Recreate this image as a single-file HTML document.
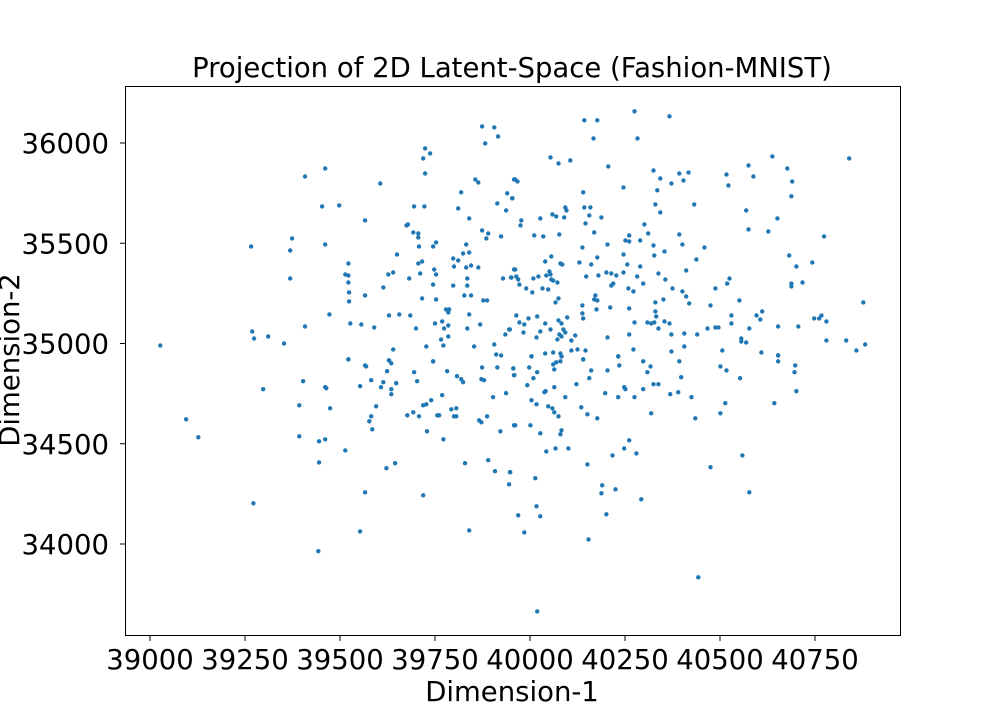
<!DOCTYPE html>
<html><head><meta charset="utf-8"><style>
html,body{margin:0;padding:0;background:#fff;}
svg text{font-family:"DejaVu Sans","Liberation Sans",sans-serif;fill:#000;}
</style></head><body>
<svg id="chart" width="1000" height="715" xmlns="http://www.w3.org/2000/svg">
<rect width="1000" height="715" fill="#fff"/>
<text x="512" y="77" font-size="27.5" text-anchor="middle">Projection of 2D Latent-Space (Fashion-MNIST)</text>
<g id="points"></g>
<rect x="125.5" y="86.5" width="775" height="549" fill="none" stroke="#000" stroke-width="1"/>
<g id="xticks"></g>
<g id="yticks"></g>
<text x="512" y="701" font-size="27.5" text-anchor="middle">Dimension-1</text>
<text x="0" y="0" font-size="27.5" text-anchor="middle" transform="translate(19,360) rotate(-90)">Dimension-2</text>
</svg>
<script>
const xTicks=[39000,39250,39500,39750,40000,40250,40500,40750];
const yTicks=[34000,34500,35000,35500,36000];
const xs=[39874,39906,39916,39882,39724,39737,39719,39724,39461,39408,39606,39856,39864,39958,39819,39940,39953,39914,39937,39453,39498,39695,39722,39811,39566,39840,39675,39679,39693,39706,39706,39874,39890,39885,39924,39753,39745,39708,39832,39266,39374,39369,39461,39650,39824,39840,39798,39811,39706,39716,39522,39800,39832,39845,39864,39748,39753,39711,39958,39514,39522,39627,39640,39682,39835,39929,39950,39369,39522,39745,39798,39835,39614,39524,39566,39827,39845,39524,39716,39753,39877,39887,39779,39787,39785,39472,39629,39656,39685,39840,39769,39750,39785,39527,39556,39590,39700,39774,39835,39869,39945,39935,39785,39408,39269,39274,39311,39353,39766,39772,39727,39853,39906,39911,39924,39640,39522,39629,39745,39027,
40275,40367,40143,40177,40167,40283,40054,40075,40106,40206,40638,40840,40575,40677,40325,40393,40417,40343,40404,40372,40517,40588,40522,40690,39961,39967,40246,40335,40140,40688,39954,40330,40432,40093,40096,40143,40159,40343,40569,40059,40069,40090,40156,40188,40027,39977,39975,40146,40301,40651,40575,40627,40774,40011,40035,40077,40169,40261,40311,40393,40251,40261,40290,40204,40325,40401,40138,40459,40354,40246,40327,40056,40177,40682,40438,40743,40040,40130,40080,40085,40161,40256,40701,40290,39961,40051,40411,40338,40201,40214,40246,39951,39964,39969,40009,40022,40043,40054,40056,40061,40072,40148,40180,40227,40282,40356,40525,39972,40219,40214,40298,40519,40688,40688,40717,39990,40006,40033,40048,40259,40272,40375,40401,40488,40411,40075,40172,40169,40177,40351,40551,40067,40330,40419,40475,40877,40138,40175,40211,40261,39964,39996,40019,40098,40138,40140,40330,40332,40530,40596,40611,40606,40748,40761,40767,40780,39972,39985,40040,40075,40083,40275,40309,40319,40327,40354,40367,40530,40054,40088,40093,39983,39947,40338,40467,40488,40496,40577,40653,40706,40077,40083,40017,40027,40119,40109,40072,40204,40261,40372,40406,40440,40556,40556,40569,40780,40832,40882,40859,40406,40272,40372,40506,40609,40653,40040,40061,40080,40083,40109,40125,40146,40140,40004,40232,
39095,39127,39298,39403,39393,39393,39461,39464,39474,39445,39461,39445,39514,39272,39443,39553,39566,39622,39645,39719,39840,39829,39890,39908,39948,39945,39522,39566,39569,39629,39635,39624,39582,39614,39648,39553,39608,39635,39635,39595,39582,39577,39585,39695,39703,39745,39782,39808,39819,39824,39874,39914,39956,39958,39872,39879,39903,39937,39958,39740,39769,39719,39727,39677,39693,39708,39756,39761,39793,39806,39800,39806,39866,39872,39887,39922,39729,39772,
40004,40083,40232,40653,39956,39959,39998,40009,40019,39993,40061,40069,40080,40064,40140,40161,40156,40204,40235,40298,40317,40309,40393,40398,40501,40517,40553,40653,40698,40696,40701,40643,40514,40501,40435,40425,40390,40369,40325,40338,40298,40275,40248,40251,40232,40198,40319,40122,40064,40038,40041,40093,40004,40017,40048,40059,40064,40075,40135,40151,40177,39961,40001,40027,40083,40080,40043,40067,40101,40151,40217,40248,40261,40280,40475,40559,40577,39947,40014,40190,40188,40225,40293,40017,39969,40027,39985,40201,40154,40443,40019];
const ys=[36083,36078,36033,35998,35973,35948,35923,35848,35873,35833,35798,35818,35803,35818,35754,35749,35724,35699,35664,35684,35689,35684,35684,35674,35614,35624,35589,35594,35554,35549,35529,35564,35549,35524,35534,35504,35484,35484,35494,35484,35524,35464,35494,35444,35449,35454,35424,35414,35399,35409,35399,35384,35379,35389,35379,35369,35344,35349,35369,35344,35339,35344,35354,35324,35324,35324,35329,35324,35304,35294,35289,35289,35280,35255,35240,35240,35240,35210,35225,35220,35215,35215,35170,35170,35155,35145,35140,35145,35140,35145,35110,35100,35090,35100,35095,35080,35075,35075,35075,35095,35070,35045,35035,35085,35060,35025,35035,35000,35020,34990,34985,34985,34995,34945,34940,34970,34920,34915,34910,34990,
36158,36133,36113,36113,36023,36023,35928,35898,35913,35883,35933,35923,35888,35873,35863,35848,35853,35823,35813,35798,35843,35833,35788,35808,35818,35808,35778,35764,35754,35734,35724,35694,35694,35679,35664,35679,35679,35654,35664,35644,35634,35629,35639,35629,35624,35614,35589,35599,35594,35624,35569,35559,35534,35539,35534,35544,35554,35539,35549,35544,35514,35509,35514,35494,35489,35494,35479,35479,35459,35444,35439,35434,35429,35439,35419,35404,35409,35404,35399,35394,35394,35394,35384,35384,35369,35359,35364,35349,35354,35349,35354,35329,35334,35319,35324,35334,35339,35344,35319,35314,35304,35334,35339,35339,35334,35319,35324,35294,35299,35289,35299,35299,35299,35285,35304,35275,35255,35275,35270,35275,35260,35275,35260,35275,35235,35225,35240,35220,35215,35220,35215,35205,35205,35200,35190,35205,35190,35170,35180,35175,35140,35125,35135,35130,35150,35125,35160,35135,35140,35140,35160,35120,35125,35125,35140,35110,35105,35095,35100,35115,35100,35105,35105,35100,35105,35110,35100,35100,35070,35070,35055,35055,35070,35075,35075,35080,35080,35075,35085,35085,35045,35035,35030,35060,35040,35015,35020,35030,35045,35045,35050,35045,35025,35010,35005,35015,35015,34995,34965,34985,34970,34960,34965,34955,34940,34950,34955,34950,34935,34965,34970,34965,34920,34935,34935,
34622,34532,34772,34812,34692,34537,34782,34777,34677,34512,34522,34407,34467,34203,33964,34063,34258,34378,34403,34243,34068,34403,34418,34363,34358,34298,34921,34891,34886,34916,34901,34862,34817,34807,34802,34787,34782,34772,34747,34687,34637,34612,34572,34857,34812,34911,34862,34837,34822,34807,34881,34881,34876,34842,34822,34817,34732,34752,34592,34717,34742,34692,34697,34642,34657,34637,34642,34642,34672,34677,34637,34637,34617,34607,34637,34562,34562,34522,
34936,34936,34936,34941,34876,34842,34881,34827,34857,34792,34896,34906,34911,34871,34921,34866,34827,34866,34891,34911,34886,34857,34911,34832,34886,34866,34827,34911,34891,34857,34762,34702,34702,34652,34627,34732,34757,34747,34797,34797,34772,34732,34782,34772,34732,34752,34652,34797,34782,34757,34762,34732,34717,34697,34687,34677,34657,34637,34682,34647,34627,34592,34592,34552,34567,34547,34462,34477,34477,34397,34442,34477,34517,34452,34383,34442,34258,34358,34328,34293,34253,34273,34223,34188,34143,34138,34058,34148,34023,33834,33664];

const NS='http://www.w3.org/2000/svg';
function xPos(v){return 150+(v-39000)*0.38;}
function yPos(v){return 143+(36000-v)*0.2005;}
const pg=document.getElementById('points');
const n=Math.min(xs.length,ys.length);
for(let i=0;i<n;i++){
  const c=document.createElementNS(NS,'circle');
  c.setAttribute('cx',xPos(xs[i]).toFixed(1));
  c.setAttribute('cy',yPos(ys[i]).toFixed(1));
  c.setAttribute('r','2.2');
  c.setAttribute('fill','#1f77b4');
  
  
  pg.appendChild(c);
}
const xg=document.getElementById('xticks');
xTicks.forEach(t=>{
  const x=xPos(t);
  const l=document.createElementNS(NS,'line');
  l.setAttribute('x1',x);l.setAttribute('x2',x);l.setAttribute('y1',636);l.setAttribute('y2',641);
  l.setAttribute('stroke','#000');
  
  
  xg.appendChild(l);
  const tx=document.createElementNS(NS,'text');
  tx.setAttribute('x',x);tx.setAttribute('y',669);tx.setAttribute('font-size','27.5');tx.setAttribute('text-anchor','middle');
  tx.textContent=t;
  
  
  xg.appendChild(tx);
});
const yg=document.getElementById('yticks');
yTicks.forEach(t=>{
  const y=yPos(t);
  const l=document.createElementNS(NS,'line');
  l.setAttribute('x1',120);l.setAttribute('x2',125);l.setAttribute('y1',y);l.setAttribute('y2',y);
  l.setAttribute('stroke','#000');
  
  
  yg.appendChild(l);
  const tx=document.createElementNS(NS,'text');
  tx.setAttribute('x',109);tx.setAttribute('y',y+10);tx.setAttribute('font-size','27.5');tx.setAttribute('text-anchor','end');
  tx.textContent=t;
  
  
  yg.appendChild(tx);
});
</script>
</body></html>
